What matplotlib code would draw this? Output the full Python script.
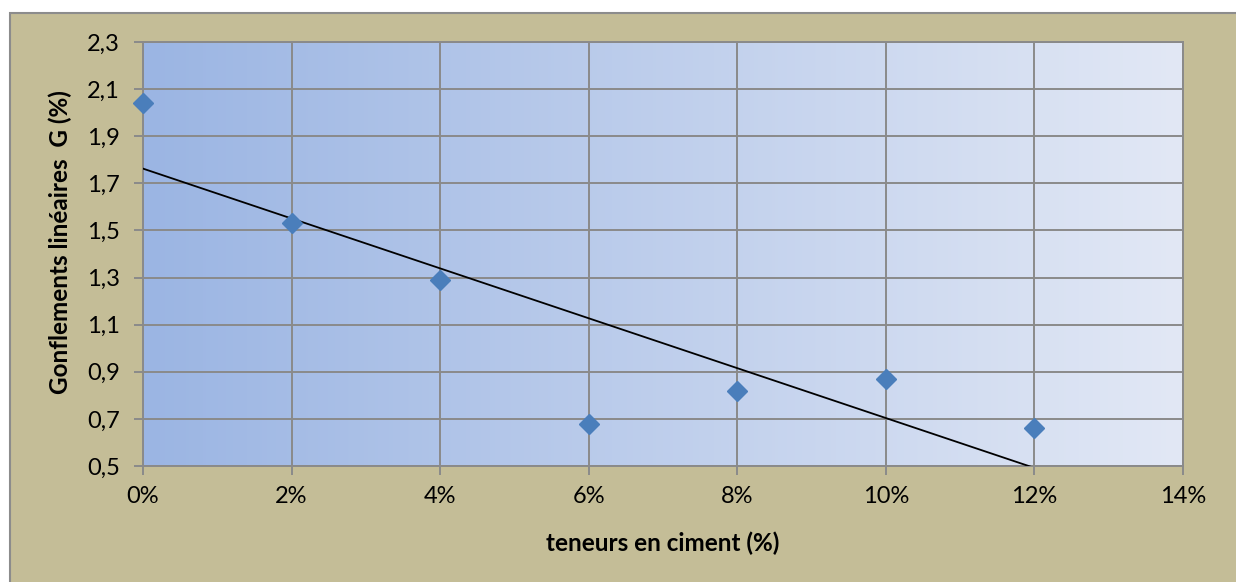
import numpy as np
import matplotlib
matplotlib.use("Agg")
import matplotlib.pyplot as plt
from matplotlib.patches import Rectangle
from matplotlib.ticker import FuncFormatter

teneurs = [0, 2, 4, 6, 8, 10, 12]
gonflements = [2.04, 1.53, 1.29, 0.68, 0.82, 0.87, 0.66]
x_label = "teneurs en ciment (%)"
y_label = "Gonflements linéaires  G (%)"

plt.rcParams['font.family'] = ['Lato', 'DejaVu Sans']

fig = plt.figure(figsize=(12.36, 5.82), dpi=100)
fig.patch.set_facecolor('white')
# khaki chart area with grey border
fig.patches.append(Rectangle((10/1236, -0.1), 1.2, 1.1 - 13/582, transform=fig.transFigure,
                             facecolor='#C4BD97', edgecolor='#8C8C8C', lw=1.5, zorder=-5))

ax = fig.add_axes([143/1236, 1 - 466/582, (1183-143)/1236, (466-42)/582])
ax.set_zorder(5)
ax.set_xlim(0, 14)
ax.set_ylim(0.5, 2.3)

# horizontal gradient background
c0 = np.array([0x9B, 0xB5, 0xE3]) / 255
c1 = np.array([0xE2, 0xE8, 0xF5]) / 255
t = np.linspace(0, 1, 256)
grad = (c0[None, :] * (1 - t[:, None]) + c1[None, :] * t[:, None])[None, :, :]
ax.imshow(grad, extent=[0, 14, 0.5, 2.3], aspect='auto', zorder=0, interpolation='bilinear')

ax.set_xticks(np.arange(0, 15, 2))
ax.set_yticks(np.arange(0.5, 2.31, 0.2))
ax.xaxis.set_major_formatter(FuncFormatter(lambda v, p: f"{int(round(v))}%"))
ax.yaxis.set_major_formatter(FuncFormatter(lambda v, p: f"{v:.1f}".replace('.', ',')))
ax.grid(True, color='#8A8A8A', lw=1.4, zorder=1)
ax.set_axisbelow(False)
for s in ax.spines.values():
    s.set_color('#8A8A8A')
    s.set_linewidth(1.4)
ax.tick_params(axis='both', colors='#8A8A8A', length=6.5, width=1.4, labelsize=17,
               labelcolor='black')
ax.tick_params(axis='x', pad=8)
ax.tick_params(axis='y', pad=10)

# linear trendline
coef = np.polyfit(teneurs, gonflements, 1)
xs = np.array([teneurs[0], teneurs[-1]])
ax.plot(xs, np.polyval(coef, xs), color='black', lw=1.3, zorder=3)

ax.plot(teneurs, gonflements, linestyle='none', marker='D', markersize=10.5,
        color='#4A7EBB', zorder=4, clip_on=False)

ax.set_xlabel(x_label, fontsize=17.5, fontweight='bold', va='center')
ax.xaxis.set_label_coords(0.5, (466 - 543) / 424)
ax.set_ylabel(y_label, fontsize=17.5, fontweight='bold', va='center')
ax.yaxis.set_label_coords((60 - 143) / 1040, 0.5 + (254 - 242) / 424)

fig.savefig('out.png', dpi=100)
